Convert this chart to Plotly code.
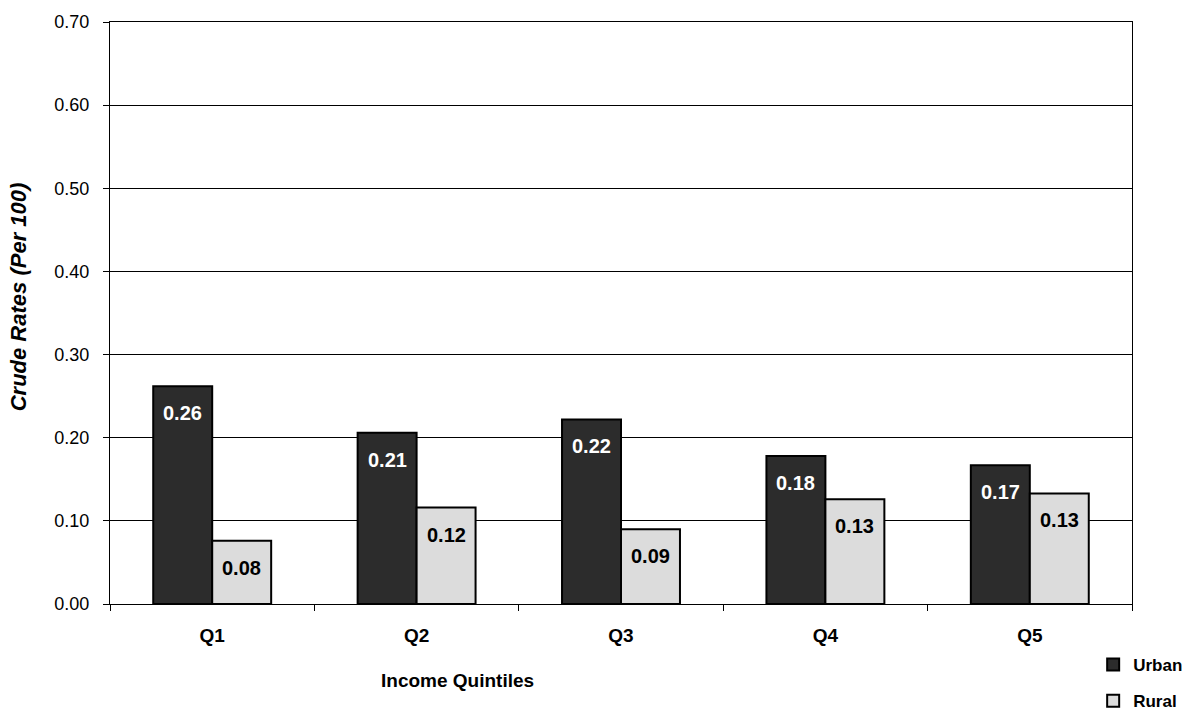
import plotly.graph_objects as go

categories = ["Q1", "Q2", "Q3", "Q4", "Q5"]
urban = [0.262, 0.206, 0.222, 0.178, 0.167]
rural = [0.076, 0.116, 0.090, 0.126, 0.133]
y_ticks = [0.0, 0.1, 0.2, 0.3, 0.4, 0.5, 0.6, 0.7]
y_tick_labels = [f"{v:.2f}" for v in y_ticks]
x_title = "Income Quintiles"
y_title = "Crude Rates (Per 100)"

FONT = "Arial, Liberation Sans, sans-serif"

fig = go.Figure()
fig.add_trace(go.Bar(
    name="Urban", x=categories, y=urban,
    marker=dict(color="#2c2c2c", line=dict(color="#000000", width=2)),
    legendgroup="u",
))
fig.add_trace(go.Bar(
    name="Rural", x=categories, y=rural,
    marker=dict(color="#dcdcdc", line=dict(color="#000000", width=2)),
    legendgroup="r",
))

# data labels inside bars near the top
for vals, shift, col in [(urban, -29.5, "white"), (rural, 29.5, "black")]:
    for c, v in zip(categories, vals):
        fig.add_annotation(
            x=c, y=v, text=f"<b>{v:.2f}</b>", showarrow=False,
            xshift=shift, yshift=-27, yanchor="middle", xanchor="center",
            font=dict(family=FONT, size=20, color=col),
        )

# axis titles (positioned as in the reference)
fig.add_annotation(
    xref="paper", yref="paper", x=0.34, y=-0.131, text=f"<b>{x_title}</b>",
    showarrow=False, xanchor="center", yanchor="middle",
    font=dict(family=FONT, size=19, color="black"),
)
fig.add_annotation(
    xref="paper", yref="paper", x=-0.09, y=0.527, text=f"<b><i>{y_title}</i></b>",
    showarrow=False, xanchor="center", yanchor="middle", textangle=-90,
    font=dict(family=FONT, size=22, color="black"),
)

fig.update_layout(
    width=1194, height=711,
    margin=dict(l=110, r=62, t=22, b=107, autoexpand=False),
    paper_bgcolor="white", plot_bgcolor="white",
    barmode="group", bargap=0.423, bargroupgap=0,
    font=dict(family=FONT, size=17, color="black"),
    showlegend=True,
    legend=dict(
        x=0.962, y=-0.074, xanchor="left", yanchor="top",
        font=dict(family=FONT, size=17, color="black", weight="bold"),
        bgcolor="rgba(0,0,0,0)", tracegroupgap=11,
        itemwidth=30,
    ),
    xaxis=dict(
        showline=True, linecolor="black", linewidth=1, mirror=True,
        ticks="outside", tickson="boundaries", ticklen=6, tickcolor="black",
        tickfont=dict(family=FONT, size=19, color="black", weight="bold"),
        ticklabelstandoff=14,
        showgrid=False,
    ),
    yaxis=dict(
        range=[0, 0.7], tickvals=y_ticks, ticktext=y_tick_labels,
        showline=True, linecolor="black", linewidth=1, mirror=True,
        ticks="outside", ticklen=6, tickcolor="black",
        tickfont=dict(family=FONT, size=18, color="black"),
        ticklabelstandoff=10,
        showgrid=True, gridcolor="#000000", gridwidth=1,
        zeroline=False,
    ),
)

fig.write_html("out.html")
